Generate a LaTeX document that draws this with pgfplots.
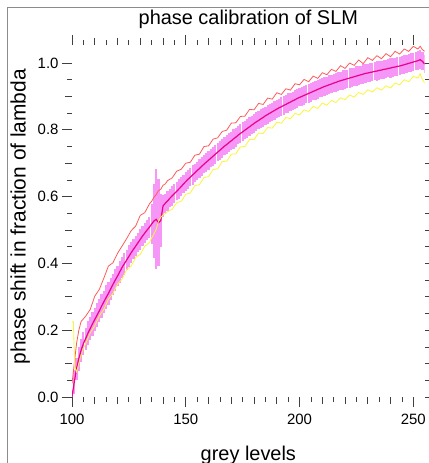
\documentclass[border=0pt]{standalone}
\usepackage{fontspec}
\setmainfont{Liberation Sans}
\usepackage{pgfplots}
\usepackage{pgfplotstable}
\pgfplotsset{compat=1.18}

% mean phase with error (magenta)
\pgfplotstableread{
x m e
100 0.000 0.020
101 0.045 0.035
102 0.085 0.033
103 0.115 0.036
104 0.140 0.034
105 0.160 0.035
106 0.175 0.033
107 0.191 0.036
108 0.205 0.034
109 0.219 0.035
110 0.232 0.033
111 0.245 0.036
112 0.258 0.034
113 0.272 0.035
114 0.285 0.033
115 0.298 0.036
116 0.310 0.034
117 0.324 0.033
118 0.337 0.032
119 0.350 0.034
120 0.362 0.031
121 0.375 0.033
122 0.388 0.032
123 0.399 0.033
124 0.410 0.031
125 0.421 0.033
126 0.432 0.032
127 0.442 0.030
128 0.452 0.031
129 0.462 0.029
130 0.472 0.031
131 0.482 0.029
132 0.491 0.030
133 0.500 0.029
134 0.508 0.031
135 0.518 0.060
136 0.527 0.110
137 0.532 0.150
138 0.522 0.130
139 0.528 0.080
140 0.572 0.032
141 0.580 0.028
142 0.587 0.029
143 0.595 0.027
144 0.602 0.029
145 0.609 0.028
146 0.616 0.027
147 0.623 0.029
148 0.630 0.028
149 0.638 0.027
150 0.645 0.029
151 0.652 0.028
152 0.658 0.027
153 0.665 0.029
154 0.671 0.028
155 0.678 0.027
156 0.684 0.029
157 0.691 0.028
158 0.697 0.027
159 0.703 0.029
160 0.709 0.028
161 0.715 0.027
162 0.721 0.029
163 0.727 0.028
164 0.733 0.027
165 0.739 0.029
166 0.745 0.028
167 0.751 0.027
168 0.756 0.029
169 0.762 0.028
170 0.767 0.027
171 0.773 0.029
172 0.778 0.028
173 0.784 0.027
174 0.789 0.029
175 0.794 0.028
176 0.799 0.027
177 0.804 0.029
178 0.809 0.028
179 0.814 0.027
180 0.819 0.029
181 0.824 0.028
182 0.828 0.027
183 0.833 0.029
184 0.837 0.028
185 0.842 0.027
186 0.846 0.029
187 0.850 0.028
188 0.854 0.027
189 0.858 0.029
190 0.862 0.028
191 0.866 0.027
192 0.869 0.029
193 0.873 0.028
194 0.876 0.027
195 0.880 0.029
196 0.883 0.028
197 0.887 0.027
198 0.890 0.029
199 0.894 0.028
200 0.897 0.027
201 0.900 0.029
202 0.903 0.028
203 0.906 0.027
204 0.909 0.029
205 0.912 0.028
206 0.915 0.027
207 0.918 0.029
208 0.921 0.028
209 0.924 0.027
210 0.927 0.029
211 0.930 0.028
212 0.932 0.027
213 0.935 0.029
214 0.937 0.028
215 0.940 0.027
216 0.942 0.029
217 0.945 0.028
218 0.947 0.027
219 0.949 0.029
220 0.951 0.028
221 0.953 0.027
222 0.955 0.029
223 0.957 0.028
224 0.959 0.027
225 0.961 0.029
226 0.963 0.028
227 0.965 0.027
228 0.967 0.029
229 0.969 0.028
230 0.970 0.027
231 0.972 0.029
232 0.973 0.028
233 0.975 0.027
234 0.976 0.029
235 0.978 0.028
236 0.979 0.027
237 0.981 0.029
238 0.982 0.028
239 0.984 0.027
240 0.985 0.029
241 0.987 0.028
242 0.988 0.027
243 0.990 0.029
244 0.991 0.028
245 0.993 0.027
246 0.995 0.029
247 0.997 0.028
248 0.999 0.027
249 1.001 0.029
250 1.003 0.028
251 1.005 0.027
252 1.007 0.029
253 1.010 0.028
254 1.005 0.027
255 0.997 0.026
}\meantab

% upper curve (red)
\pgfplotstableread{
x r
100 0.040
101 0.100
102 0.160
103 0.200
104 0.226
105 0.234
106 0.242
108 0.262
110 0.302
112 0.322
114 0.356
116 0.392
118 0.402
120 0.430
122 0.452
124 0.474
126 0.498
128 0.512
130 0.544
132 0.552
134 0.578
135 0.586
136 0.598
137 0.606
138 0.618
139 0.622
140 0.634
141 0.638
142 0.648
144 0.656
146 0.676
148 0.682
150 0.700
152 0.703
154 0.724
156 0.727
158 0.750
160 0.752
162 0.772
164 0.776
166 0.795
168 0.799
170 0.820
172 0.821
174 0.840
176 0.841
178 0.861
180 0.860
182 0.879
184 0.876
186 0.895
188 0.892
190 0.911
192 0.906
194 0.923
196 0.919
198 0.938
200 0.935
202 0.951
204 0.944
206 0.961
208 0.954
210 0.971
212 0.965
214 0.981
216 0.975
218 0.992
220 0.984
222 1.000
224 0.993
226 1.009
228 0.998
230 1.016
232 1.008
234 1.022
236 1.013
238 1.028
240 1.019
242 1.035
244 1.027
246 1.042
248 1.035
250 1.050
252 1.042
253 1.050
254 1.040
255 1.035
}\uppertab

% lower curve (yellow)
\pgfplotstableread{
x y
100 0.225
100.6 0.225
101.2 0.090
102 0.075
103 0.100
104 0.125
105 0.145
106 0.160
108 0.192
110 0.213
112 0.243
114 0.262
116 0.293
118 0.310
120 0.338
122 0.353
124 0.381
126 0.392
128 0.418
130 0.427
132 0.452
134 0.462
135 0.476
136 0.488
137 0.502
138 0.526
139 0.538
140 0.545
141 0.549
142 0.555
144 0.562
146 0.582
148 0.586
150 0.607
152 0.611
154 0.633
156 0.636
158 0.657
160 0.660
162 0.681
164 0.683
166 0.705
168 0.706
170 0.727
172 0.728
174 0.749
176 0.750
178 0.771
180 0.771
182 0.790
184 0.789
186 0.807
188 0.805
190 0.823
192 0.820
194 0.837
196 0.833
198 0.849
200 0.845
202 0.860
204 0.855
206 0.870
208 0.864
210 0.880
212 0.874
214 0.888
216 0.882
218 0.896
220 0.890
222 0.904
224 0.898
226 0.912
228 0.906
230 0.920
232 0.913
234 0.926
236 0.919
238 0.932
240 0.925
242 0.940
244 0.935
246 0.950
248 0.944
250 0.960
252 0.955
253 0.968
254 0.950
255 0.940
}\lowertab

\definecolor{bandmag}{RGB}{246,150,246}
\definecolor{upred}{RGB}{255,90,90}
\definecolor{lowyel}{RGB}{250,245,60}

\begin{document}
\begin{tikzpicture}
\useasboundingbox (0,0) rectangle (429bp,463bp);
\draw[black!45, line width=1bp] (7.5bp,0) -- (7.5bp,455.5bp) -- (429bp,455.5bp);
\begin{axis}[
  at={(72bp,66bp)}, anchor=south west,
  scale only axis, width=352.7bp, height=352bp,
  xmin=100, xmax=255, ymin=0, ymax=1.054,
  axis line style={draw=none},
  tick align=outside,
  major tick length=10bp, minor tick length=5bp,
  tick style={black!75, line width=0.8bp},
  xtick={100,150,200,250}, minor x tick num=9,
  ytick={0,0.2,0.4,0.6,0.8,1.0}, minor y tick num=3,
  extra x ticks={110,120,130,140,160,170,180,190,210,220,230,240},
  extra x tick labels={},
  extra x tick style={major tick length=7bp},
  extra y ticks={0.1,0.3,0.5,0.7,0.9},
  extra y tick labels={},
  extra y tick style={major tick length=7bp},
  /pgf/number format/assume math mode=true,
  ticklabel style={font=\fontsize{15}{15}\selectfont},
  x tick label style={yshift=-4bp},
  y tick label style={/pgf/number format/fixed,/pgf/number format/fixed zerofill,/pgf/number format/precision=1},
  title={phase calibration of SLM},
  title style={at={(0.5,1.057)}, anchor=center, font=\fontsize{20}{20}\selectfont},
  xlabel={grey levels},
  xlabel style={at={(0.5,-0.165)}, anchor=center, font=\fontsize{20}{20}\selectfont},
  ylabel={phase shift in fraction of lambda},
  ylabel style={at={(-0.147,0.512)}, anchor=center, font=\fontsize{21}{21}\selectfont},
]
% error band first
\addplot[color=bandmag, line width=0.4bp, mark=none,
  error bars/.cd, y dir=both, y explicit, error mark=none,
  error bar style={line width=2.2bp, color=bandmag}]
  table[x=x, y=m, y error=e] {\meantab};
% mean curve on top
\addplot[color=magenta, line width=1.2bp, mark=none] table[x=x, y=m] {\meantab};
\addplot[color=upred, line width=0.8bp] table[x=x, y=r] {\uppertab};
\addplot[color=lowyel, line width=0.8bp] table[x=x, y=y] {\lowertab};
\end{axis}
\end{tikzpicture}
\end{document}
